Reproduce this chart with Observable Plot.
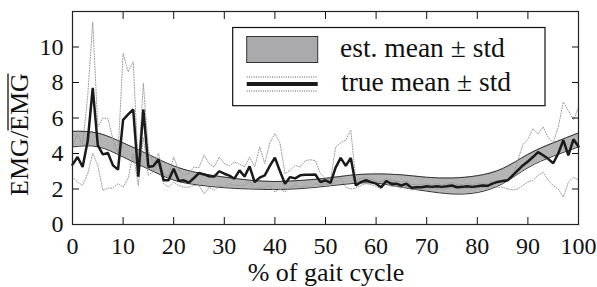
<!DOCTYPE html>
<html>
<head>
<meta charset="utf-8">
<script src="https://cdn.jsdelivr.net/npm/d3@7"></script>
<script src="https://cdn.jsdelivr.net/npm/@observablehq/plot@0.6"></script>
<style>
  html, body { margin: 0; padding: 0; background: #fff; }
  #chart svg { display: block; }
  #chart svg, #chart svg text, #chart svg tspan { font-family: "Liberation Serif", "Times New Roman", Times, serif !important; }
</style>
</head>
<body>
<div id="chart"></div>
<script>
// ---- data ----
const gaitPct = [0,1,2,3,4,5,6,7,8,9,10,11,12,13,14,15,16,17,18,19,20,21,22,23,24,25,26,27,28,29,30,31,32,33,34,35,36,37,38,39,40,41,42,43,44,45,46,47,48,49,50,51,52,53,54,55,56,57,58,59,60,61,62,63,64,65,66,67,68,69,70,71,72,73,74,75,76,77,78,79,80,81,82,83,84,85,86,87,88,89,90,91,92,93,94,95,96,97,98,99,100];

const trueMean = [3.37,3.8,3.24,4.7,7.7,4.46,3.95,4.03,3.33,3.09,5.9,6.2,6.48,2.7,6.48,3.24,3.3,3.67,2.49,2.49,3.14,2.45,2.49,2.36,2.62,2.9,2.82,2.72,2.7,3.0,2.86,2.75,2.58,3.05,2.7,3.28,2.39,2.64,2.77,3.3,3.77,3.0,2.3,2.67,2.6,2.77,2.8,2.8,2.82,2.39,2.49,2.35,3.2,3.75,3.3,3.75,2.2,2.39,2.49,2.39,2.3,2.1,2.45,2.3,2.3,2.2,2.3,2.07,2.1,2.1,2.15,2.12,2.15,2.12,2.15,2.2,2.1,2.12,2.15,2.12,2.15,2.2,2.18,2.3,2.4,2.45,2.49,2.77,3.05,3.33,3.55,3.8,4.08,3.9,3.7,3.45,4.0,4.75,3.9,4.8,4.4];

const trueUpper = [4.4,5.1,4.5,7.2,11.4,5.5,6.0,5.97,4.8,3.95,9.64,8.6,9.17,3.2,7.95,4.18,3.4,4.0,2.86,2.75,3.8,3.05,2.8,2.86,3.24,3.2,3.9,3.43,3.24,3.8,3.43,3.3,3.52,3.4,3.24,3.8,3.24,4.37,3.43,4.6,5.12,4.6,2.86,3.05,3.33,3.24,3.6,3.65,3.6,2.86,2.58,2.49,4.37,4.6,4.75,5.31,2.45,2.6,2.65,2.55,2.45,2.4,2.6,2.5,2.45,2.4,2.45,2.25,2.25,2.25,2.3,2.25,2.3,2.25,2.28,2.35,2.25,2.25,2.3,2.25,2.3,2.35,2.3,2.45,2.45,2.4,2.55,2.7,3.6,4.5,4.8,5.4,5.1,5.5,4.9,4.6,5.5,6.9,6.4,5.9,6.6];

const trueLower = [2.67,2.39,2.2,2.86,4.0,3.33,1.92,2.05,2.05,2.3,2.1,2.6,4.0,2.2,4.9,2.77,3.0,3.43,2.3,2.1,2.39,2.2,2.1,2.1,2.2,2.2,1.73,2.1,1.92,2.2,2.1,2.3,2.2,2.2,2.2,2.45,2.0,2.1,2.1,2.2,1.83,2.0,1.83,2.1,2.2,2.1,2.2,2.1,2.3,2.2,2.3,2.2,2.39,2.67,2.1,2.0,2.05,2.2,2.3,2.25,2.15,2.0,2.3,2.15,2.15,2.05,2.15,1.95,2.0,2.0,2.05,2.02,2.05,2.0,2.05,2.1,2.0,2.02,2.05,2.02,2.05,2.1,2.08,2.15,2.1,2.1,2.0,1.95,2.0,2.2,2.39,2.49,2.77,2.94,2.49,2.2,2.0,1.54,2.39,2.67,2.5];

const estPct   = [0,5,10,15,20,25,30,35,40,45,50,55,60,65,70,75,80,85,90,95,100];
const estUpper = [5.25,5.15,4.6,3.95,3.3,2.9,2.67,2.5,2.42,2.48,2.6,2.78,2.85,2.8,2.66,2.62,2.75,3.15,3.95,4.6,5.16];
const estLower = [4.37,4.38,3.8,3.12,2.5,2.22,2.07,2.0,1.97,2.02,2.15,2.3,2.33,2.1,1.88,1.72,1.8,2.3,3.2,3.85,4.37];

const xTicks = [0,10,20,30,40,50,60,70,80,90,100];
const yTicks = [0,2,4,6,8,10];
const xLabel = "% of gait cycle";
const legendLabels = ["est. mean \u00b1 std", "true mean \u00b1 std"];

// ---- tables ----
const trueRows = gaitPct.map((x, i) => ({x, mean: trueMean[i], hi: trueUpper[i], lo: trueLower[i]}));
const estRows = estPct.map((x, i) => ({x, hi: estUpper[i], lo: estLower[i]}));

const FONT = '"Liberation Serif", "Times New Roman", Times, serif';
const W = 597, H = 287;

const plot = Plot.plot({
  width: W,
  height: H,
  marginLeft: 72,
  marginRight: 19,
  marginTop: 11,
  marginBottom: 63,
  style: {fontFamily: FONT, background: "#fff", color: "#111"},
  x: {domain: [0, 100]},
  y: {domain: [0, 12]},
  marks: [
    Plot.areaY(estRows, {x: "x", y1: "lo", y2: "hi", curve: "natural", fill: "#b4b4b4"}),
    Plot.lineY(estRows, {x: "x", y: "hi", curve: "natural", stroke: "#333", strokeWidth: 1}),
    Plot.lineY(estRows, {x: "x", y: "lo", curve: "natural", stroke: "#333", strokeWidth: 1}),
    Plot.lineY(trueRows, {x: "x", y: "hi", stroke: "#999", strokeWidth: 1, strokeDasharray: "1,1.6"}),
    Plot.lineY(trueRows, {x: "x", y: "lo", stroke: "#999", strokeWidth: 1, strokeDasharray: "1,1.6"}),
    Plot.lineY(trueRows, {x: "x", y: "mean", stroke: "#1a1a1a", strokeWidth: 2.5, strokeLinejoin: "miter"}),
    // tick labels
    Plot.axisX({anchor: "bottom", ticks: xTicks, tickSize: 0, tickPadding: 12, fontSize: 24, label: null}),
    Plot.axisY({anchor: "left", ticks: yTicks, tickSize: 0, tickPadding: 9, fontSize: 24, label: null}),
    // inward ticks on all sides
    Plot.axisX({anchor: "bottom", ticks: xTicks.slice(1, -1), tickSize: -7, fill: "none", label: null}),
    Plot.axisX({anchor: "top", ticks: xTicks.slice(1, -1), tickSize: -7, fill: "none", label: null}),
    Plot.axisY({anchor: "left", ticks: yTicks.slice(1), tickSize: -7, fill: "none", label: null}),
    Plot.axisY({anchor: "right", ticks: yTicks.slice(1), tickSize: -7, fill: "none", label: null}),
    Plot.frame({stroke: "#222", strokeWidth: 1.2})
  ]
});

document.getElementById("chart").appendChild(plot);

const svg = d3.select(plot);

// x-axis label
svg.append("text")
  .attr("x", 326).attr("y", 281)
  .attr("text-anchor", "middle")
  .style("font-size", "26px").attr("fill", "#111")
  .text(xLabel);

// y-axis label: EMG / overline(EMG)
const yl = svg.append("g").attr("transform", "translate(28,134.5) rotate(-90)");
const ytxt = yl.append("text")
  .attr("text-anchor", "middle")
  .style("font-size", "26px").attr("fill", "#111");
const t1 = ytxt.append("tspan").text("EMG/");
const t2 = ytxt.append("tspan").text("EMG");
const L = ytxt.node().getComputedTextLength();
const l1 = t1.node().getComputedTextLength();
yl.append("line")
  .attr("x1", -L / 2 + l1 + 0.5).attr("x2", L / 2 - 0.5)
  .attr("y1", -20).attr("y2", -20)
  .attr("stroke", "#111").attr("stroke-width", 1.3);

// legend
const lg = svg.append("g").attr("text-anchor", "start");
lg.append("rect").attr("x", 232.7).attr("y", 27.5).attr("width", 312.3).attr("height", 78.2)
  .attr("fill", "#fff").attr("stroke", "#111").attr("stroke-width", 1.2);
lg.append("rect").attr("x", 246.7).attr("y", 36.5).attr("width", 71).attr("height", 26)
  .attr("fill", "#aaaaac").attr("stroke", "#333").attr("stroke-width", 1);
lg.append("line").attr("x1", 246.7).attr("x2", 317.7).attr("y1", 84).attr("y2", 84)
  .attr("stroke", "#1a1a1a").attr("stroke-width", 4.2);
[77, 91].forEach(y => lg.append("line").attr("x1", 246.7).attr("x2", 317.7).attr("y1", y).attr("y2", y)
  .attr("stroke", "#555").attr("stroke-width", 1).attr("stroke-dasharray", "1,1.3"));
lg.append("text").attr("x", 340).attr("y", 57).attr("text-anchor", "start")
  .style("font-size", "27.5px").attr("fill", "#111").text(legendLabels[0]);
lg.append("text").attr("x", 341).attr("y", 91).attr("text-anchor", "start")
  .style("font-size", "27.5px").attr("fill", "#111").text(legendLabels[1]);
</script>
</body>
</html>
